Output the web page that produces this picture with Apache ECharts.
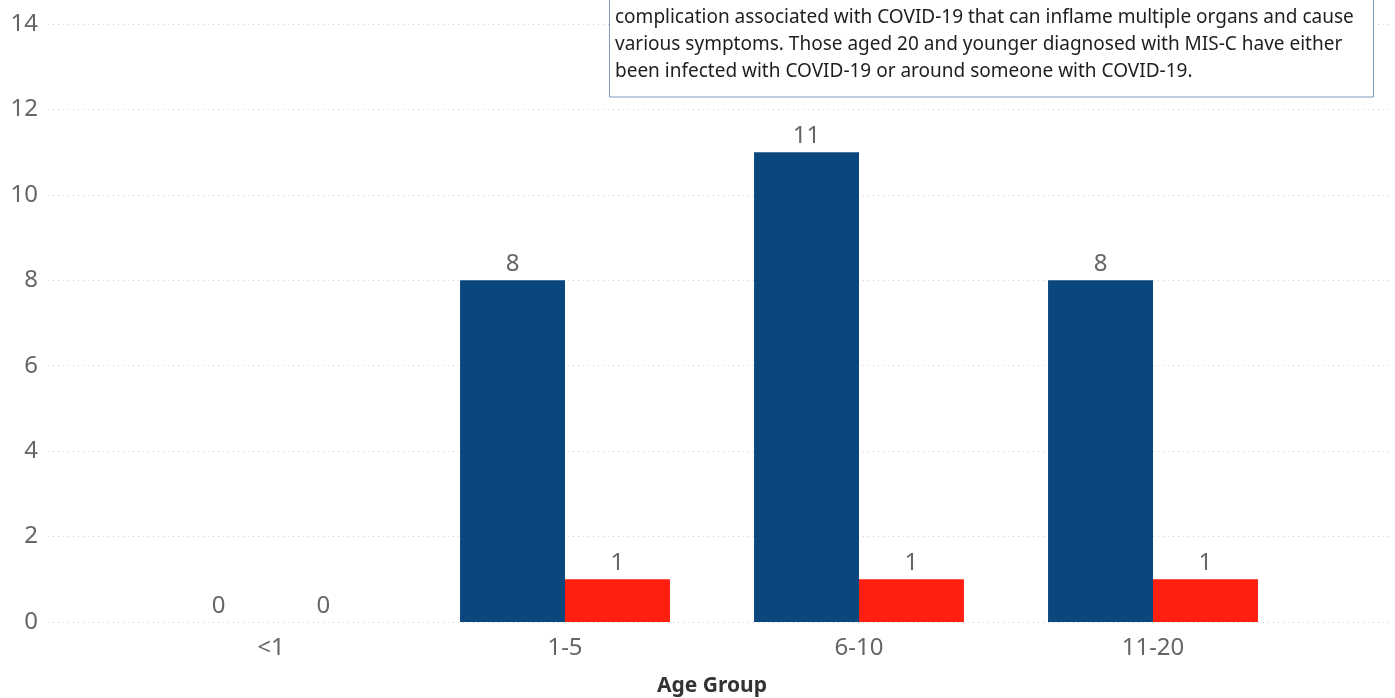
<!DOCTYPE html>
<html><head><meta charset="utf-8">
<script src="https://cdn.jsdelivr.net/npm/echarts@6/dist/echarts.min.js"></script>
<style>html,body{margin:0;padding:0;background:#fff}#c{width:1395px;height:698px}</style>
</head><body><div id="c"></div>
<script>
const categories = ['<1', '1-5', '6-10', '11-20'];
const seriesA = [0, 8, 11, 8];
const seriesB = [0, 1, 1, 1];
const yTicks = [0, 2, 4, 6, 8, 10, 12, 14];
const xTitle = 'Age Group';
const noteLines = [
  'complication associated with COVID-19 that can inflame multiple organs and cause',
  'various symptoms. Those aged 20 and younger diagnosed with MIS-C have either',
  'been infected with COVID-19 or around someone with COVID-19.'
];

const chart = echarts.init(document.getElementById('c'));
const font = 'Noto Sans';
const lbl = { show: true, position: 'top', color: '#666', fontSize: 24, fontFamily: font, distance: 4 };
chart.setOption({
  animation: false,
  grid: [
    { left: 124, right: 95, top: 24, bottom: 76, outerBoundsMode: 'none', containLabel: false },
    { left: 48, right: 5, top: 24, bottom: 76, outerBoundsMode: 'none', containLabel: false }
  ],
  xAxis: [
    { type: 'category', gridIndex: 0, data: categories,
      axisLine: { show: false }, axisTick: { show: false },
      axisLabel: { color: '#666', fontSize: 24, fontFamily: font, margin: 14 },
      name: xTitle, nameLocation: 'middle', nameGap: 54,
      nameTextStyle: { color: '#333', fontSize: 21, fontWeight: 'bold', fontFamily: font } },
    { type: 'category', gridIndex: 1, data: categories, show: false }
  ],
  yAxis: [
    { type: 'value', gridIndex: 0, min: 0, max: 14, interval: 2, show: false },
    { type: 'value', gridIndex: 1, min: 0, max: 14, interval: 2,
      axisLine: { show: false }, axisTick: { show: false },
      axisLabel: { color: '#666', fontSize: 24, fontFamily: font, margin: 10,
        formatter: v => yTicks.includes(v) ? String(v) : '' },
      splitLine: { lineStyle: { color: '#cfcfcf', type: [1, 4], width: 1 } } }
  ],
  series: [
    { type: 'bar', xAxisIndex: 0, yAxisIndex: 0, data: seriesA, barGap: '0%', barCategoryGap: '28.6%',
      itemStyle: { color: '#0b477f' }, label: lbl, z: 3 },
    { type: 'bar', xAxisIndex: 0, yAxisIndex: 0, data: seriesB, barGap: '0%', barCategoryGap: '28.6%',
      itemStyle: { color: '#ff1f10' }, label: lbl, z: 3 }
  ],
  graphic: [
    { type: 'rect', shape: { x: 609.5, y: -5, width: 764, height: 102 },
      style: { fill: '#fff', stroke: '#7f9ac0', lineWidth: 1 }, z: 10 },
    { type: 'text', left: 615, top: 4, z: 11,
      style: { text: noteLines.join('\n'), fill: '#1e1e1e', fontSize: 19, fontFamily: font, lineHeight: 27 } }
  ]
});
</script></body></html>
